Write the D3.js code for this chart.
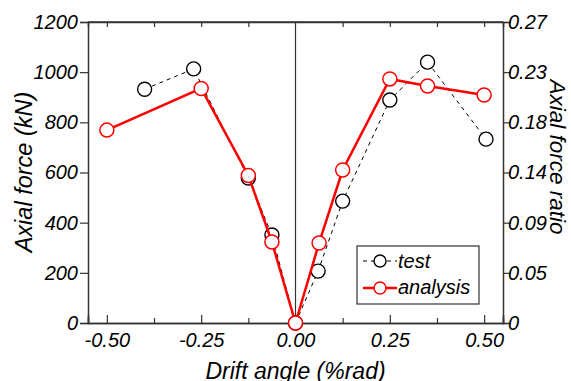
<!DOCTYPE html>
<html>
<head>
<meta charset="utf-8">
<script src="https://cdn.jsdelivr.net/npm/d3@7"></script>
<style>
  body { margin: 0; background: #fff; }
  svg text { font-family: "Liberation Sans", Arial, sans-serif; font-style: italic; }
</style>
</head>
<body>
<div class="canvas"></div>
<script>
// data
const testDrift = [-0.40, -0.27, -0.125, -0.0625, 0, 0.06, 0.125, 0.25, 0.35, 0.505];
const testForce = [932, 1013, 578, 351, 0, 207, 486, 889, 1040, 733];

const anaDrift = [-0.5, -0.25, -0.125, -0.0625, 0, 0.0625, 0.125, 0.25, 0.35, 0.5];
const anaForce = [769, 935, 588, 323, 0, 319, 610, 973, 945, 909];

const xTicks = [-0.5, -0.25, 0, 0.25, 0.5];
const xTickLabels = ['-0.50', '-0.25', '0.00', '0.25', '0.50'];
const xMinor = [-0.375, -0.125, 0.125, 0.375];
const yTicks = [0, 200, 400, 600, 800, 1000, 1200];
const ratioTicks = [0, 0.045, 0.09, 0.135, 0.18, 0.225, 0.27];
const ratioLabels = ['0', '0.05', '0.09', '0.14', '0.18', '0.23', '0.27'];


const W = 571, H = 381;
const mLeft = 88, mRight = 503, mTop = 22, mBottom = 323;

const svg = d3.select('.canvas').append('svg')
    .attr('width', W)
    .attr('height', H);

// scales
const x = d3.scaleLinear().domain([-0.55, 0.55]).range([mLeft, mRight]);
const y = d3.scaleLinear().domain([0, 1200]).range([mBottom, mTop]);
const yR = d3.scaleLinear().domain([0, 0.27]).range([mBottom, mTop]);

const axisColor = '#333';

// AXES
svg.append('g')
    .attr('transform', `translate(${mLeft},0)`)
    .call(d3.axisLeft(y).tickValues(yTicks).tickSize(8).tickPadding(2).tickFormat(d3.format('d')));

svg.append('g')
    .attr('transform', `translate(${mRight},0)`)
    .call(d3.axisRight(yR).tickValues(ratioTicks).tickSize(8).tickPadding(-3)
        .tickFormat((d, i) => ratioLabels[i]));

const gb = svg.append('g')
    .attr('transform', `translate(0,${mBottom})`)
    .call(d3.axisBottom(x).tickValues(xTicks).tickSize(-8)
        .tickFormat((d, i) => xTickLabels[i]));

// minor ticks on bottom
svg.append('g')
    .attr('transform', `translate(0,${mBottom})`)
    .call(d3.axisBottom(x).tickValues(xMinor).tickSize(-5).tickFormat(''));

// top ticks (inward)
svg.append('g')
    .attr('transform', `translate(0,${mTop})`)
    .call(d3.axisTop(x).tickValues(xTicks.concat(xMinor).filter(d => d !== 0)).tickSize(-5).tickFormat(''));

svg.selectAll('.domain').attr('stroke', axisColor).attr('stroke-width', 1.5);
svg.selectAll('.tick line').attr('stroke', axisColor).attr('stroke-width', 1.2);
svg.selectAll('.tick text')
    .attr('fill', '#000')
    .style('font-size', '20px')
    .style('font-style', 'italic');

gb.selectAll('.tick text').attr('y', 24).attr('dy', 0);

// frame top line
svg.append('line')
    .attr('x1', mLeft).attr('x2', mRight)
    .attr('y1', mTop).attr('y2', mTop)
    .attr('stroke', axisColor).attr('stroke-width', 1.5);

// zero line
svg.append('line')
    .attr('x1', x(0)).attr('x2', x(0))
    .attr('y1', mTop).attr('y2', mBottom)
    .attr('stroke', axisColor).attr('stroke-width', 1.2);


// TITLES
svg.append('text')
    .attr('transform', 'translate(32,172) rotate(-90)')
    .attr('text-anchor', 'middle')
    .style('font-size', '23.5px')
    .attr('fill', '#000')
    .text('Axial force (kN)');

svg.append('text')
    .attr('transform', 'translate(550,157) rotate(90)')
    .attr('text-anchor', 'middle')
    .style('font-size', '22.5px')
    .attr('fill', '#000')
    .text('Axial force ratio');

svg.append('text')
    .attr('x', x(0))
    .attr('y', 379)
    .attr('text-anchor', 'middle')
    .style('font-size', '23px')
    .attr('fill', '#000')
    .text('Drift angle (%rad)');


// SERIES
const line = d3.line().x(d => x(d[0])).y(d => y(d[1]));
const testPts = testDrift.map((d, i) => [d, testForce[i]]);
const anaPts = anaDrift.map((d, i) => [d, anaForce[i]]);

svg.append('path')
    .datum(testPts)
    .attr('d', line)
    .attr('fill', 'none')
    .attr('stroke', '#000')
    .attr('stroke-width', 1)
    .attr('stroke-dasharray', '4,4');

svg.selectAll('.testDot')
    .data(testPts)
    .enter().append('circle')
    .attr('cx', d => x(d[0]))
    .attr('cy', d => y(d[1]))
    .attr('r', 7)
    .attr('fill', 'white')
    .attr('stroke', '#000')
    .attr('stroke-width', 1.4);

svg.append('path')
    .datum(anaPts)
    .attr('d', line)
    .attr('fill', 'none')
    .attr('stroke', '#f00')
    .attr('stroke-width', 2.5);

svg.selectAll('.anaDot')
    .data(anaPts)
    .enter().append('circle')
    .attr('cx', d => x(d[0]))
    .attr('cy', d => y(d[1]))
    .attr('r', 7)
    .attr('fill', 'white')
    .attr('stroke', '#f00')
    .attr('stroke-width', 1.5);


// LEGEND
const lg = svg.append('g');
lg.append('rect')
    .attr('x', 357).attr('y', 246)
    .attr('width', 122).attr('height', 58)
    .attr('fill', 'white')
    .attr('stroke', '#333')
    .attr('stroke-width', 1.2);

lg.append('line')
    .attr('x1', 363).attr('x2', 397)
    .attr('y1', 261).attr('y2', 261)
    .attr('stroke', '#000').attr('stroke-width', 1.2)
    .attr('stroke-dasharray', '4,4');
lg.append('circle')
    .attr('cx', 380).attr('cy', 261).attr('r', 6)
    .attr('fill', 'white').attr('stroke', '#000').attr('stroke-width', 1.4);
lg.append('text')
    .attr('x', 398).attr('y', 268)
    .style('font-size', '20px')
    .attr('fill', '#000')
    .text('test');

lg.append('line')
    .attr('x1', 363).attr('x2', 397)
    .attr('y1', 288).attr('y2', 288)
    .attr('stroke', '#f00').attr('stroke-width', 2.5);
lg.append('circle')
    .attr('cx', 380).attr('cy', 288).attr('r', 6)
    .attr('fill', 'white').attr('stroke', '#f00').attr('stroke-width', 1.5);
lg.append('text')
    .attr('x', 398).attr('y', 294)
    .style('font-size', '20px')
    .attr('fill', '#000')
    .text('analysis');
</script>
</body>
</html>
